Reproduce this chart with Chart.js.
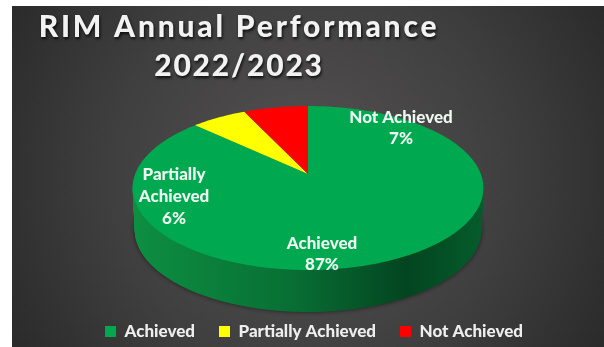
<!DOCTYPE html>
<html>
<head>
<meta charset="utf-8">
<title>RIM Annual Performance</title>
<style>
  html, body { margin: 0; padding: 0; background: #fff; }
  #chart-box { position: absolute; left: 0; top: 0; width: 604px; height: 347px; }
</style>
</head>
<body>
<div id="chart-box"><canvas id="rim-chart"></canvas></div>
<script src="https://cdn.jsdelivr.net/npm/chart.js@4/dist/chart.umd.min.js"></script>
<script>
const categories  = ['Achieved', 'Partially Achieved', 'Not Achieved']
const percentages = [87, 6, 7]
const sliceColors = ['#00a94f', '#ffff00', '#ff0000']
const titleLines  = ['RIM Annual Performance', '2022/2023']

// tilted disc: apex position, half axes and perspective strength
const disc = { cx: 308, cy: 174, a: 172.8, b: 79.6, k: 0.171, depth: 42 }

function project(angle, drop = 0) {
    const u = Math.cos(angle)
    const v = Math.sin(angle)
    const w = 1 - disc.k * v
    const squeeze = 1 - 0.012 * drop / disc.depth
    return {
        x: disc.cx + squeeze * disc.a * u / w,
        y: disc.cy + disc.b * v / w + drop
    }
}

function slicePath(ctx, arc, drop = 0) {
    const steps = Math.max(2, Math.ceil((arc.endAngle - arc.startAngle) / 0.02))
    ctx.beginPath()
    ctx.moveTo(disc.cx, disc.cy + drop)
    for (let i = 0; i <= steps; i++) {
        const p = project(arc.startAngle + (arc.endAngle - arc.startAngle) * i / steps, drop)
        ctx.lineTo(p.x, p.y)
    }
    ctx.closePath()
}

class DiscArc extends Chart.ArcElement {
    static id = 'discArc'

    draw(ctx) {
        ctx.save()
        ctx.fillStyle = this.options.backgroundColor
        slicePath(ctx, this)
        ctx.fill()
        ctx.restore()
    }
}

class Pie3dController extends Chart.PieController {
    static id = 'pie3d'
    static defaults = { dataElementType: 'discArc' }

    draw() {
        const ctx  = this.chart.ctx
        const wall = ctx.createLinearGradient(133, 0, 484, 0)
        wall.addColorStop(0, '#0d8f42')
        wall.addColorStop(0.45, '#086f34')
        wall.addColorStop(0.78, '#034520')
        wall.addColorStop(1, '#055c2b')

        // side wall, stacked downwards from the rim
        ctx.save()
        ctx.fillStyle = wall
        ctx.shadowColor = 'rgba(0,0,0,0.55)'
        ctx.shadowBlur = 5
        this.getMeta().data.forEach(arc => {
            slicePath(ctx, arc, disc.depth)
            ctx.fill()
        })
        ctx.shadowColor = 'transparent'
        for (let drop = disc.depth - 1; drop > 0; drop--) {
            this.getMeta().data.forEach(arc => {
                slicePath(ctx, arc, drop)
                ctx.fill()
            })
        }
        ctx.restore()

        super.draw()
    }
}

Chart.register(DiscArc, Pie3dController)

const panelBackground = {
    id: 'panelBackground',
    beforeDraw(chart) {
        const ctx = chart.ctx
        const glow = ctx.createRadialGradient(308, 175, 20, 308, 175, 345)
        glow.addColorStop(0, '#525050')
        glow.addColorStop(0.55, '#403f3f')
        glow.addColorStop(1, '#2a2a2a')
        ctx.save()
        ctx.fillStyle = glow
        ctx.fillRect(12, 6, chart.width - 12, chart.height - 6)
        ctx.restore()
    }
}

const headingText = {
    id: 'headingText',
    afterDraw(chart) {
        const ctx = chart.ctx
        ctx.save()
        ctx.font = '900 30px Lato'
        ctx.textAlign = 'center'
        ctx.textBaseline = 'alphabetic'
        ctx.fillStyle = '#f2f2f2'
        ctx.shadowColor = 'rgba(0,0,0,0.8)'
        ctx.shadowBlur = 3
        ctx.shadowOffsetX = 1
        ctx.shadowOffsetY = 2
        ctx.letterSpacing = '2.8px'
        ctx.fillText(titleLines[0], 239, 37)
        ctx.letterSpacing = '1.8px'
        ctx.fillText(titleLines[1], 239, 76)
        ctx.restore()
    }
}

// value captions sit on the green face, so each one gets its own anchor
const sliceCaptions = {
    id: 'sliceCaptions',
    afterDraw(chart) {
        const ctx = chart.ctx
        const captions = [
            { x: 322, y: 244, lines: [categories[0], percentages[0] + '%'], gap: 21 },
            { x: 174, y: 175, lines: ['Partially', 'Achieved', percentages[1] + '%'], gap: 22 },
            { x: 401, y: 118, lines: [categories[2], percentages[2] + '%'], gap: 21 }
        ]
        ctx.save()
        ctx.font = '900 17px Lato'
        ctx.textAlign = 'center'
        ctx.textBaseline = 'middle'
        ctx.fillStyle = '#eef8f2'
        captions.forEach(c => {
            c.lines.forEach((line, i) => ctx.fillText(line, c.x, c.y + i * c.gap))
        })
        ctx.restore()
    }
}

new Chart(document.getElementById('rim-chart'), {
    type: 'pie3d',
    data: {
        labels: categories,
        datasets: [{
            data: percentages,
            backgroundColor: sliceColors,
            borderWidth: 0
        }]
    },
    options: {
        responsive: true,
        maintainAspectRatio: false,
        animation: false,
        events: [],
        layout: { padding: { left: 24, bottom: -3 } },
        plugins: {
            title: { display: false },
            tooltip: { enabled: false },
            legend: {
                position: 'bottom',
                labels: {
                    color: '#eeeeee',
                    font: { family: 'Lato', weight: '900', size: 17 },
                    boxWidth: 11,
                    boxHeight: 11,
                    padding: 24
                }
            }
        }
    },
    plugins: [panelBackground, headingText, sliceCaptions]
})
</script>
</body>
</html>
